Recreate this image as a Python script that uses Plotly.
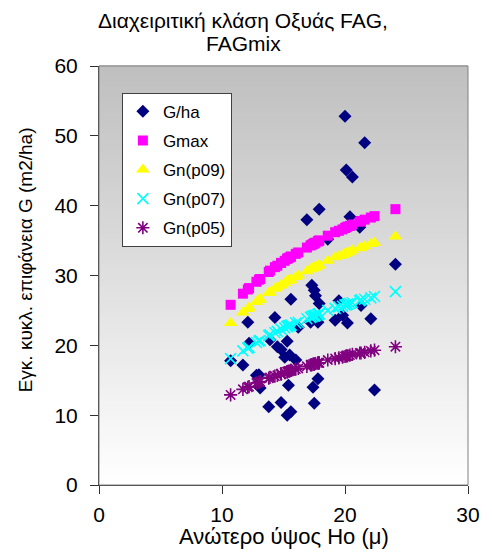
import plotly.graph_objects as go

# ---- data ----
ho = [10.7, 11.7, 12.1, 12.2, 12.8, 13.0, 13.1, 13.8, 13.9, 14.3, 14.5, 14.8, 14.8, 15.1, 15.3, 15.3,
      15.4, 15.5, 15.6, 15.6, 16.0, 16.2, 16.9, 17.2, 17.3, 17.4, 17.5, 17.5, 17.6, 17.8, 17.8, 17.9,
      17.9, 18.6, 19.2, 19.5, 19.8, 20.0, 20.1, 20.2, 20.4, 20.6, 21.2, 21.3, 21.6, 22.1, 22.4, 24.1]
g_ha = [17.8, 17.2, 23.3, 20.3, 15.7, 15.8, 13.9, 11.2, 20.8, 24.0, 19.8, 11.8, 19.4, 18.3, 20.6, 10.0,
        14.3, 18.6, 10.5, 26.6, 17.9, 22.6, 38.0, 23.3, 28.6, 14.0, 27.9, 11.7, 27.1, 23.3, 15.2, 26.0,
        39.5, 35.2, 23.6, 26.4, 24.3, 52.8, 45.1, 23.2, 38.4, 44.1, 36.9, 25.7, 49.0, 23.8, 13.6, 31.6]
gmax = [25.8, 27.4, 28.0, 28.2, 29.1, 29.4, 29.5, 30.5, 30.7, 31.2, 31.4, 31.8, 31.8, 32.1, 32.4, 32.4,
        32.5, 32.6, 32.7, 32.7, 33.1, 33.3, 34.0, 34.3, 34.4, 34.5, 34.6, 34.6, 34.7, 34.9, 34.9, 35.0,
        35.0, 35.7, 36.2, 36.4, 36.6, 36.8, 36.9, 37.0, 37.1, 37.3, 37.7, 37.8, 38.0, 38.3, 38.5, 39.5]
gn09 = [23.2, 24.7, 25.2, 25.4, 26.2, 26.5, 26.6, 27.5, 27.6, 28.1, 28.3, 28.6, 28.6, 28.9, 29.2, 29.2,
        29.3, 29.3, 29.4, 29.4, 29.8, 30.0, 30.6, 30.9, 31.0, 31.1, 31.1, 31.1, 31.2, 31.4, 31.4, 31.5,
        31.5, 32.1, 32.6, 32.8, 32.9, 33.1, 33.2, 33.3, 33.4, 33.6, 33.9, 34.0, 34.2, 34.5, 34.7, 35.6]
gn07 = [18.1, 19.2, 19.6, 19.7, 20.4, 20.6, 20.7, 21.4, 21.5, 21.8, 22.0, 22.3, 22.3, 22.5, 22.7, 22.7,
        22.8, 22.8, 22.9, 22.9, 23.2, 23.3, 23.8, 24.0, 24.1, 24.2, 24.2, 24.2, 24.3, 24.4, 24.4, 24.5,
        24.5, 25.0, 25.3, 25.5, 25.6, 25.8, 25.8, 25.9, 26.0, 26.1, 26.4, 26.5, 26.6, 26.8, 27.0, 27.7]
gn05 = [12.9, 13.7, 14.0, 14.1, 14.6, 14.7, 14.8, 15.3, 15.4, 15.6, 15.7, 15.9, 15.9, 16.1, 16.2, 16.2,
        16.3, 16.3, 16.4, 16.4, 16.6, 16.7, 17.0, 17.2, 17.2, 17.3, 17.3, 17.3, 17.4, 17.5, 17.5, 17.5,
        17.5, 17.9, 18.1, 18.2, 18.3, 18.4, 18.5, 18.5, 18.6, 18.7, 18.9, 18.9, 19.0, 19.2, 19.3, 19.8]

title_line1 = "Διαχειριτική κλάση Οξυάς FAG,"
title_line2 = "FAGmix"
x_title = "Ανώτερο ύψος Ho (μ)"
y_title = "Εγκ. κυκλ. επιφάνεια G (m2/ha)"
x_ticks = [0, 10, 20, 30]
y_ticks = [0, 10, 20, 30, 40, 50, 60]

FONT = "Liberation Sans, Arial, sans-serif"

fig = go.Figure()
fig.add_trace(go.Scatter(x=ho, y=g_ha, mode="markers", name="G/ha", legendgroup="a",
                         marker=dict(symbol="diamond", color="#000080", size=10)))
fig.add_trace(go.Scatter(x=ho, y=gmax, mode="markers", name="Gmax", legendgroup="b",
                         marker=dict(symbol="square", color="#FF00FF", size=10)))
fig.add_trace(go.Scatter(x=ho, y=gn09, mode="markers", name="Gn(p09)", legendgroup="c",
                         marker=dict(symbol="triangle-up", color="#FFFF00", size=12)))
fig.add_trace(go.Scatter(x=ho, y=gn07, mode="markers", name="Gn(p07)", legendgroup="d",
                         marker=dict(symbol="x-thin", color="#00FFFF", size=11,
                                     line=dict(color="#00FFFF", width=1.6))))
fig.add_trace(go.Scatter(x=ho, y=gn05, mode="markers", name="Gn(p05)", legendgroup="e",
                         marker=dict(symbol="asterisk", color="#800080", size=11,
                                     line=dict(color="#800080", width=1.6))))

# gradient background for the plot area
shapes = []
n = 80
for i in range(n):
    t = i / n
    c = int(round(255 - 64 * (t + 0.5 / n)))
    shapes.append(dict(type="rect", xref="paper", yref="paper", x0=0, x1=1,
                       y0=t, y1=(i + 1) / n + 0.002, line=dict(width=0),
                       fillcolor=f"rgb({c},{c},{c})", layer="below"))
shapes.append(dict(type="rect", xref="paper", yref="paper", x0=0, x1=1, y0=0, y1=1,
                   line=dict(color="#808080", width=1), layer="above"))

annotations = [
    dict(text=title_line1, xref="paper", yref="paper", x=0.391, y=1.109,
         xanchor="center", yanchor="middle", showarrow=False,
         font=dict(size=21, family=FONT, color="black")),
    dict(text=title_line2, xref="paper", yref="paper", x=0.391, y=1.054,
         xanchor="center", yanchor="middle", showarrow=False,
         font=dict(size=21, family=FONT, color="black")),
    dict(text=x_title, xref="paper", yref="paper", x=0.5, y=-0.122,
         xanchor="center", yanchor="middle", showarrow=False,
         font=dict(size=22, family=FONT, color="black")),
    dict(text=y_title, xref="paper", yref="paper", x=-0.197, y=0.537,
         xanchor="center", yanchor="middle", showarrow=False, textangle=-90,
         font=dict(size=19, family=FONT, color="black")),
]

fig.update_layout(
    width=492, height=552,
    margin=dict(l=99, r=17, t=66, b=67),
    paper_bgcolor="white", plot_bgcolor="rgba(0,0,0,0)",
    font=dict(family=FONT, color="black"),
    shapes=shapes,
    annotations=annotations,
    showlegend=True,
    legend=dict(x=0.062, y=0.936, xanchor="left", yanchor="top",
                bgcolor="white", bordercolor="#404040", borderwidth=1,
                font=dict(size=17, family=FONT), tracegroupgap=4,
                itemwidth=30),
)
fig.update_xaxes(range=[0, 30], tickvals=x_ticks, showgrid=False, zeroline=False,
                 showline=True, linecolor="#303030", linewidth=1,
                 ticks="outside", ticklen=8, tickcolor="#303030",
                 ticklabelstandoff=3,
                 tickfont=dict(size=21, family=FONT))
fig.update_yaxes(range=[0, 60], tickvals=y_ticks, showgrid=False, zeroline=False,
                 showline=True, linecolor="#303030", linewidth=1,
                 ticks="outside", ticklen=8, tickcolor="#303030",
                 ticklabelstandoff=8,
                 tickfont=dict(size=21, family=FONT))

fig.write_html("out.html")
